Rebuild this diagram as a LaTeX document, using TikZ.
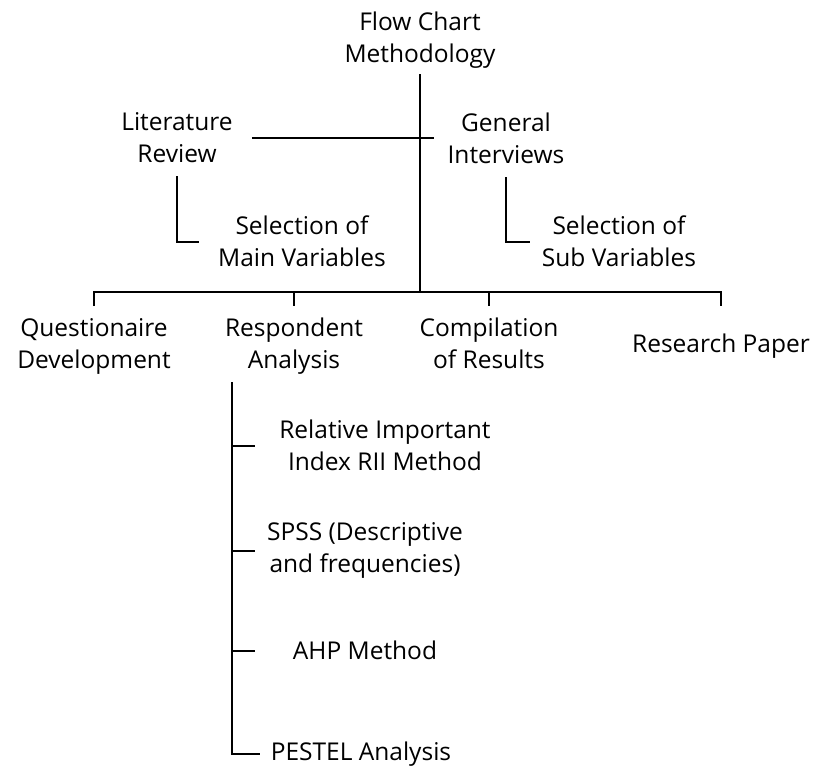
\documentclass[tikz,border=0pt]{standalone}
\usepackage{fontspec}
\setmainfont{Open Sans}
\usepackage{tikz}

\begin{document}
\begin{tikzpicture}[x=1pt,y=-1pt,line width=2.4pt,
    lbl/.style={align=center,inner sep=2pt,font=\fontsize{24.5}{32}\selectfont}]
    \useasboundingbox (0,0) rectangle (815,769);

    % Top of the chart
    \node[lbl] (title) at (420,39.7) {Flow Chart\\Methodology};
    \node[lbl] (lit) at (177,138) {Literature\\Review};
    \node[lbl] (gen) at (506,138.7) {General\\Interviews};
    \node[lbl] (selmain) at (302,241.7) {Selection of\\Main Variables};
    \node[lbl] (selsub) at (619,241.7) {Selection of\\Sub Variables};

    % Main steps
    \node[lbl] (q) at (94,346.7) {Questionaire\\Development};
    \node[lbl] (ra) at (294,346) {Respondent\\Analysis};
    \node[lbl] (cr) at (489,343) {Compilation\\of Results};
    \node[lbl] (rp) at (721,345.7) {Research Paper};

    % Analysis methods
    \node[lbl] (rii) at (385,445.7) {Relative Important\\Index RII Method};
    \node[lbl] (spss) at (365,550.7) {SPSS (Descriptive\\and frequencies)};
    \node[lbl] (ahp) at (365,650.7) {AHP Method};
    \node[lbl] (pestel) at (361,753.7) {PESTEL Analysis};

    % Trunk and branches
    \coordinate (hub) at (420,292);
    \draw[shorten <=3pt] (title.south) -- (hub);
    \draw[shorten <=16pt,shorten >=10.5pt] (lit.east) -- (lit.east -| gen.west);
    \draw[shorten <=10pt,shorten >=15.7pt] (lit.south) |- (selmain.west);
    \draw[shorten <=10pt,shorten >=8.5pt] (gen.south) |- (selsub.west);

    % Bar over the main steps
    \draw ([yshift=-14pt]q.north |- hub) -- (q.north |- hub) -- (rp.north |- hub) -- ++(0,14);
    \draw (ra.north |- hub) -- ++(0,14);
    \draw (cr.north |- hub) -- ++(0,14);

    % Methods under Respondent Analysis
    \coordinate (rtop) at ([xshift=10pt,yshift=-5pt]ra.south west);
    \draw[shorten >=8pt] (rtop) |- (pestel.west);
    \foreach \n in {rii,spss,ahp}
        \draw (rtop |- \n.west) -- ++(23,0);
\end{tikzpicture}
\end{document}
